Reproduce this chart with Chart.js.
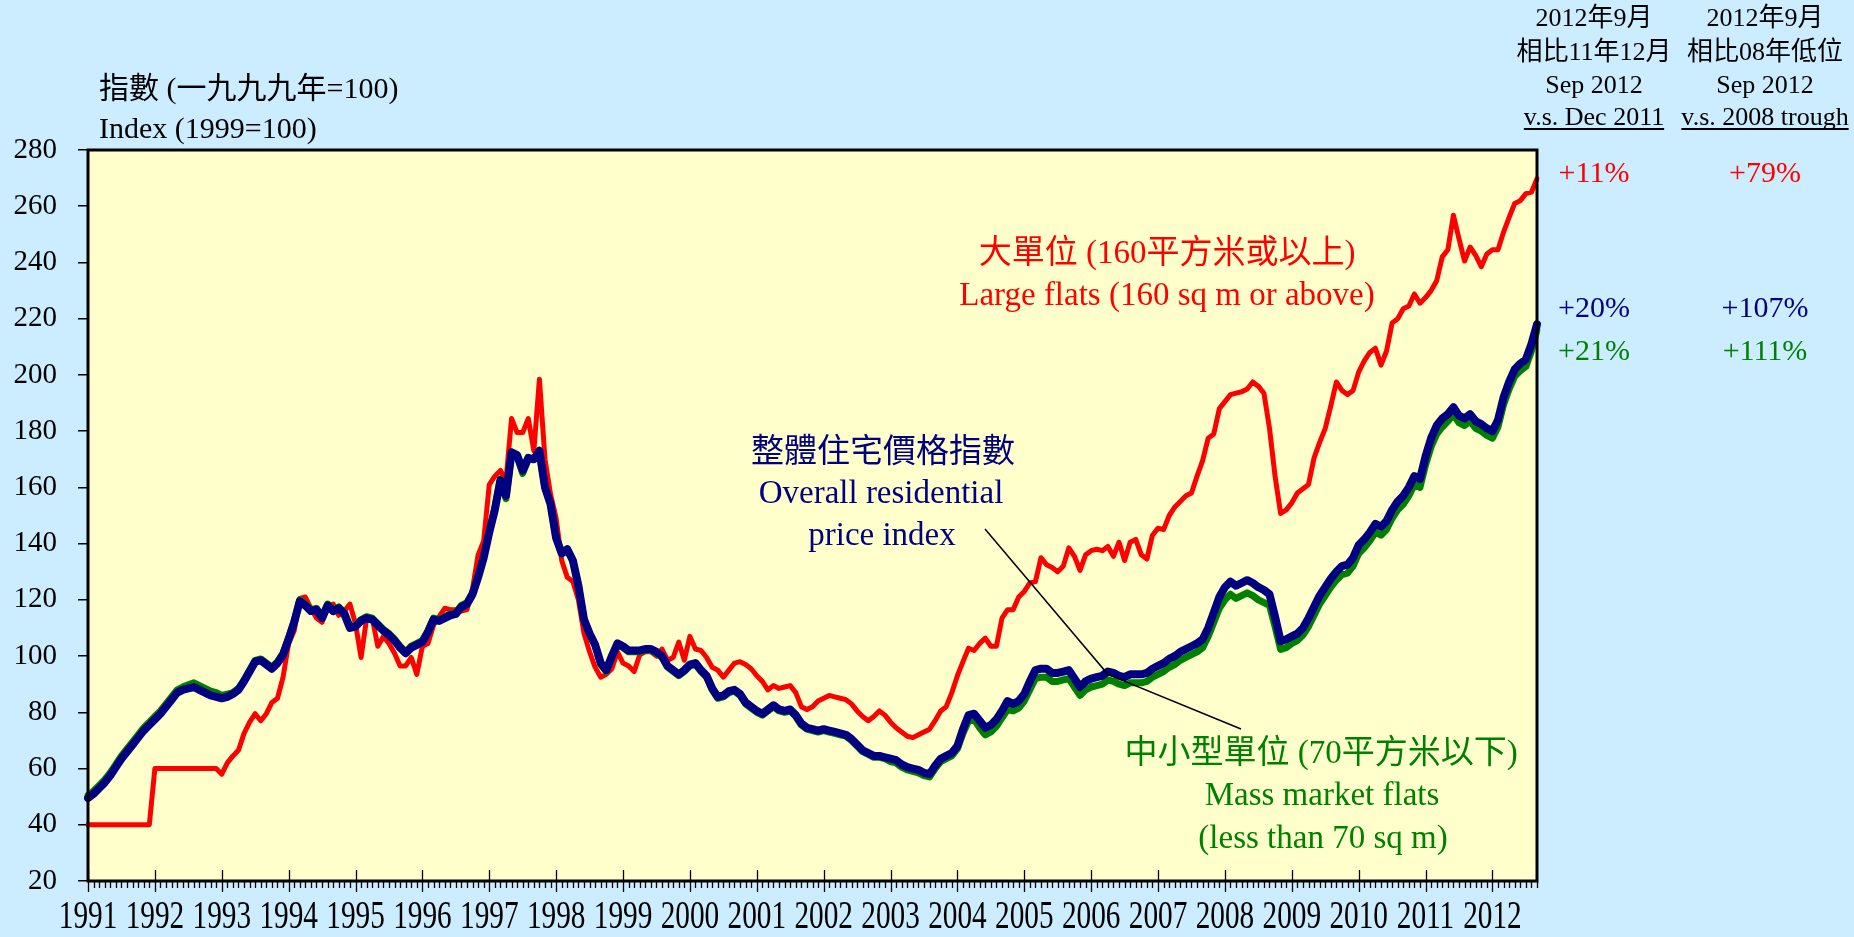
<!DOCTYPE html>
<html>
<head>
<meta charset="utf-8">
<title>Residential price indices</title>
<script src="https://cdn.jsdelivr.net/npm/chart.js@4.4.0/dist/chart.umd.min.js"></script>
<style>
  html, body { margin: 0; padding: 0; background: #CCECFF; overflow: hidden; }
  canvas { display: block; }
</style>
</head>
<body>
<canvas id="chart" width="1854" height="937"></canvas>
<script>
// monthly data, Jan 1991 .. Sep 2012
const years = [1991, 1992, 1993, 1994, 1995, 1996, 1997, 1998, 1999, 2000, 2001,
               2002, 2003, 2004, 2005, 2006, 2007, 2008, 2009, 2010, 2011, 2012];
const lastMonth = 9;

const overall = [
  49.5, 51, 53, 55, 57.5, 60.5, 63.5, 66, 68.5, 71, 73.5, 75.5,
  77.5, 79.5, 82, 84.5, 87, 88, 88.5, 89, 88, 87, 86, 85.5,
  85, 85.5, 86.5, 88, 91, 94.5, 98, 98.5, 97, 95.5, 97.5, 100.5,
  106, 112, 119.5, 118, 116, 116.5, 113.5, 118, 116, 117, 115, 110,
  110.5, 112.5, 113.5, 113, 111, 109, 107.5, 105.5, 103, 101, 103, 104,
  105, 108.5, 113, 112.5, 113.5, 114.5, 115, 117.5, 118.5, 122, 128, 135,
  144, 152, 162.5, 157, 172.5, 171.5, 166, 170.5, 170, 173, 160, 154,
  142, 136.5, 138, 134, 125, 113, 108, 104, 97.5, 95, 100, 104.5,
  103.5, 102, 102, 102, 102.5, 102.5, 101.5, 100, 96.5, 95, 93.5, 95,
  97, 97.5, 95, 93, 88.5, 85.5, 86, 87.5, 88, 86.5, 83.5, 82,
  80.5, 79.5, 81, 82.5, 81, 80.5, 81, 79, 76, 74.5, 74, 73.5,
  74, 73.5, 73, 72.5, 72, 70.5, 68.5, 66.5, 65.5, 64.5, 64.5, 64,
  63.5, 63, 61.5, 60.5, 60, 59.5, 58.5, 58, 61, 63.5, 64.5, 65.5,
  68, 74, 79, 79.5, 77, 74.5, 75.5, 77.5, 80.5, 84, 83, 84,
  86.5, 91, 95, 95.5, 95.5, 94, 94, 94.5, 95, 92, 89, 91,
  92, 92.5, 93, 94.5, 94, 93, 92.5, 93.5, 93.5, 93.5, 94, 95.5,
  96.5, 97.5, 99, 100, 101.5, 102.5, 103.5, 104.5, 106, 110, 115.5, 121,
  124.5, 126.5, 125, 126, 127, 126, 124.5, 123.5, 122, 114, 105.3, 106,
  107, 108, 110, 113.5, 117.5, 121.5, 124.5, 127.5, 130, 132, 132.5, 135,
  139.5, 141.5, 144, 147, 146, 148, 152, 155, 157, 160, 164, 163,
  171, 177.5, 182, 184.5, 186, 188.5, 185.5, 184.5, 186, 183.5, 182.5, 181,
  180, 184, 192, 197.5, 202, 204, 205.5, 211, 218
];

const massMarket = [
  50.5, 52, 54, 56, 58.5, 61.5, 64.5, 67, 69.5, 72, 74.5, 76.5,
  78.5, 80.5, 83, 85.5, 88, 89, 89.8, 90.5, 89.5, 88.5, 87.5, 87,
  86, 86.5, 87, 88.5, 91.5, 95, 98.5, 99, 97.5, 96, 98, 101,
  106.5, 112.5, 120, 118.5, 116.5, 117, 114, 118.5, 116.5, 117.5, 115.5, 110.5,
  111, 113, 114, 113.5, 111.5, 109.5, 108, 106, 103.5, 101.5, 103.5, 104.5,
  105.5, 109, 113.5, 113, 114, 115, 115.5, 118, 119, 122.5, 128.5, 135.5,
  144.5, 152.5, 163, 156, 172.5, 171, 165, 170, 170, 172.5, 160, 154,
  142, 136.5, 138, 134, 125, 113, 108, 104, 97, 94.5, 99.5, 104,
  103, 101.5, 101.5, 101.5, 102, 102, 101, 99.5, 96, 94.5, 93, 94.5,
  96.5, 97, 94.5, 92.5, 88, 85, 85.5, 87, 87.5, 86, 83, 81.5,
  80, 79, 80.5, 82, 80.5, 80, 80.5, 78.5, 75.5, 74, 73.5, 73,
  73.5, 73, 72.5, 72, 71.5, 70, 68, 66, 65, 64, 64, 63.5,
  62.5, 62, 60.5, 59.5, 59, 58.5, 57.5, 57, 60, 62.5, 63.5, 64.5,
  67, 72.5, 77, 77.5, 74.5, 72, 73, 75, 78, 81, 80.5, 81.5,
  84, 88, 92, 92.5, 92.5, 91, 91, 91.5, 92, 89, 86, 88,
  89, 89.5, 90, 91.5, 91, 90, 89.5, 90.5, 90.5, 90.5, 91, 92.5,
  93.5, 94.5, 96, 97, 98.5, 99.5, 100.5, 101.5, 103, 107, 112, 117,
  120, 122, 120.5, 121.5, 122.5, 121.5, 120, 119, 118, 110.5, 102.4, 103,
  104.5, 105.5, 107.5, 110.5, 114.5, 118.5, 121.5, 124.5, 127, 129, 129.5, 132,
  136.5, 138.5, 141, 144, 143, 145, 149, 152, 154, 157, 161, 160,
  168, 174.5, 179, 181.5, 183.5, 186, 183, 182, 183.5, 181, 180, 178.5,
  177.5, 181.5, 189.5, 195, 199.5, 201.5, 203, 208.5, 216
];

const largeFlats = [
  40, 40, 40, 40, 40, 40, 40, 40, 40, 40, 40, 40,
  60, 60, 60, 60, 60, 60, 60, 60, 60, 60, 60, 60,
  58, 62, 64.5, 66.5, 72.5, 76.5, 79.5, 77, 79.5, 83.5, 85, 92.5,
  104.5, 109, 120.5, 121, 117, 113.5, 112, 118, 118.5, 114.5, 116, 118.5,
  111.5, 99.5, 113.5, 113.5, 103.5, 107, 104.5, 101, 96.5, 96.5, 99.5, 93.5,
  103.5, 104.5, 111, 114, 117, 116.5, 116.5, 116, 116.5, 124, 136, 141,
  161, 164, 166, 162.5, 184.5, 179.5, 179.5, 184.5, 173, 198.5, 170, 157.5,
  149, 134, 128, 126.5, 120, 108, 101.5, 96, 92.5, 93.5, 95.5, 101.5,
  97.5, 96.5, 94.5, 100.5, 101.5, 101.5, 100, 102.5, 98.5, 99.5, 105, 98.5,
  107, 102.5, 102, 99.5, 96, 95, 92.5, 95, 97.5, 98, 97, 95.5,
  93, 91, 88, 89.5, 88.5, 89, 89.5, 87, 82, 81, 82, 84,
  85, 86, 85.5, 85, 84.5, 83, 80.5, 78.5, 77, 78.5, 80.5, 79,
  76.5, 74.5, 73, 71.5, 71, 72, 73, 74, 77, 80.5, 82, 87,
  93, 98, 102.8, 102, 104.5, 106.4, 103.5, 103.5, 113.5, 116.5, 116.5, 121,
  123, 126, 126.5, 135, 132.5, 131.5, 130, 132, 138.5, 135.5, 130.5, 136,
  137.5, 138, 137.5, 139, 135.5, 140.5, 134, 140.5, 141.5, 136, 134.5, 143,
  145.5, 145, 150, 153, 155, 157, 158, 164, 169.5, 177.5, 179, 188,
  190.5, 193, 193.5, 194, 195, 197.5, 196, 193.5, 181, 164, 150.7, 152,
  154.5, 158, 159.5, 161, 170.5, 176, 181, 189, 197.5, 194.5, 193, 194.5,
  201, 205, 208, 209.5, 203.5, 208.5, 218.5, 220, 223.5, 224.5, 228.8, 225.5,
  227.5, 230, 233.5, 242, 244.5, 256.8, 248.5, 240.5, 245.5, 242.5, 238.5, 243,
  244.5, 244.5, 250.8, 256, 261, 262, 264.5, 265, 269.8
];

// Sep 2012 changes: [large, overall, mass market]
const changeVsDec2011 = ['+11%', '+20%', '+21%'];
const changeVsTrough = ['+79%', '+107%', '+111%'];

const RED = '#FF0000', NAVY = '#000080', GREEN = '#008000';
const SERIF = '"Liberation Serif", "Times New Roman", "Noto Sans CJK TC", serif';

const months = [];
years.forEach(y => {
    const n = y === years[years.length - 1] ? lastMonth : 12;
    for (let m = 1; m <= n; m++) months.push(y + '-' + (m < 10 ? '0' + m : m));
});

function label(ctx, str, x, y, size, color, align) {
    ctx.font = size + 'px ' + SERIF;
    ctx.fillStyle = color;
    ctx.textAlign = align || 'center';
    ctx.textBaseline = 'middle';
    ctx.fillText(str, x, y);
}

const decor = {
    id: 'decor',
    beforeDraw(chart) {
        const { ctx, chartArea: a, width, height } = chart;
        ctx.save();
        ctx.fillStyle = '#CCECFF';
        ctx.fillRect(0, 0, width, height);
        ctx.fillStyle = '#FFFFCC';
        ctx.fillRect(a.left, a.top, a.right - a.left, a.bottom - a.top);
        ctx.restore();
    },
    afterDraw(chart) {
        const { ctx, chartArea: a } = chart;
        const xs = chart.scales.x, ys = chart.scales.y;
        ctx.save();

        // frame
        ctx.strokeStyle = '#000';
        ctx.lineWidth = 3;
        ctx.strokeRect(a.left, a.top, a.right - a.left, a.bottom - a.top);

        // monthly minor ticks, yearly major ticks
        ctx.lineWidth = 1.3;
        ctx.beginPath();
        months.forEach((m, i) => {
            const px = Math.round(xs.getPixelForValue(i)) + 0.5;
            const major = i % 12 === 0;
            ctx.moveTo(px, a.bottom - (major ? 11 : 0));
            ctx.lineTo(px, a.bottom + (major ? 11 : 7));
        });
        ctx.stroke();

        // year labels (condensed)
        ctx.font = '39px ' + SERIF;
        ctx.fillStyle = '#000';
        ctx.textAlign = 'center';
        ctx.textBaseline = 'alphabetic';
        years.forEach((y, k) => {
            const px = xs.getPixelForValue(k * 12);
            ctx.save();
            ctx.translate(px, 928);
            ctx.scale(0.75, 1);
            ctx.fillText(String(y), 0, 0);
            ctx.restore();
        });

        // axis title
        label(ctx, '指數 (一九九九年=100)', 99, 90, 30, '#000', 'left');
        label(ctx, 'Index (1999=100)', 99, 130, 30, '#000', 'left');

        // series captions
        label(ctx, '大單位 (160平方米或以上)', 1167, 254, 33, RED);
        label(ctx, 'Large flats (160 sq m or above)', 1167, 296, 33, RED);
        label(ctx, '整體住宅價格指數', 883, 453, 33, NAVY);
        label(ctx, 'Overall residential', 881, 494, 33, NAVY);
        label(ctx, 'price index', 882, 536, 33, NAVY);
        label(ctx, '中小型單位 (70平方米以下)', 1321, 754, 33, GREEN);
        label(ctx, 'Mass market flats', 1322, 796, 33, GREEN);
        label(ctx, '(less than 70 sq m)', 1323, 839, 33, GREEN);

        // leader lines meeting at Apr 2006
        const jx = xs.getPixelForValue(183), jy = ys.getPixelForValue(93.5);
        ctx.strokeStyle = '#000';
        ctx.lineWidth = 1.5;
        ctx.beginPath();
        ctx.moveTo(985, 529);
        ctx.lineTo(jx, jy);
        ctx.lineTo(1241, 729);
        ctx.stroke();

        // right-hand comparison table
        const cols = [1594, 1765];
        const head = [
            ['2012年9月', '相比11年12月', 'Sep 2012', 'v.s. Dec 2011'],
            ['2012年9月', '相比08年低位', 'Sep 2012', 'v.s. 2008 trough']
        ];
        const rows = [19, 53, 86, 118];
        head.forEach((lines, c) => {
            lines.forEach((t, r) => label(ctx, t, cols[c], rows[r], 26, '#000'));
            ctx.font = '26px ' + SERIF;
            const w = ctx.measureText(lines[3]).width;
            ctx.strokeStyle = '#000';
            ctx.lineWidth = 2;
            ctx.beginPath();
            ctx.moveTo(cols[c] - w / 2, 129);
            ctx.lineTo(cols[c] + w / 2, 129);
            ctx.stroke();
        });
        const colours = [RED, NAVY, GREEN];
        const rowY = [174, 309, 352];
        colours.forEach((col, r) => {
            label(ctx, changeVsDec2011[r], cols[0], rowY[r], 30, col);
            label(ctx, changeVsTrough[r], cols[1], rowY[r], 30, col);
        });

        ctx.restore();
    }
};

new Chart(document.getElementById('chart'), {
    type: 'line',
    data: {
        labels: months,
        datasets: [
            { data: overall, borderColor: NAVY, borderWidth: 8 },
            { data: massMarket, borderColor: GREEN, borderWidth: 7 },
            { data: largeFlats, borderColor: RED, borderWidth: 5 }
        ]
    },
    options: {
        responsive: false,
        animation: false,
        devicePixelRatio: 1,
        layout: { padding: { left: 0, top: 150, right: 317, bottom: 0 } },
        elements: {
            point: { radius: 0 },
            line: { tension: 0, borderJoinStyle: 'round', borderCapStyle: 'round' }
        },
        plugins: { legend: { display: false }, tooltip: { enabled: false } },
        scales: {
            x: {
                offset: false,
                grid: { display: false },
                border: { display: false },
                ticks: { display: false },
                afterFit: s => { s.height = 56; }
            },
            y: {
                min: 20,
                max: 280,
                ticks: { stepSize: 20, padding: 21, color: '#000', font: { family: SERIF, size: 29 } },
                grid: { drawOnChartArea: false, tickLength: 10, color: '#000', lineWidth: 1.5 },
                border: { display: false },
                afterFit: s => { s.width = 88; }
            }
        }
    },
    plugins: [decor]
});
</script>
</body>
</html>
